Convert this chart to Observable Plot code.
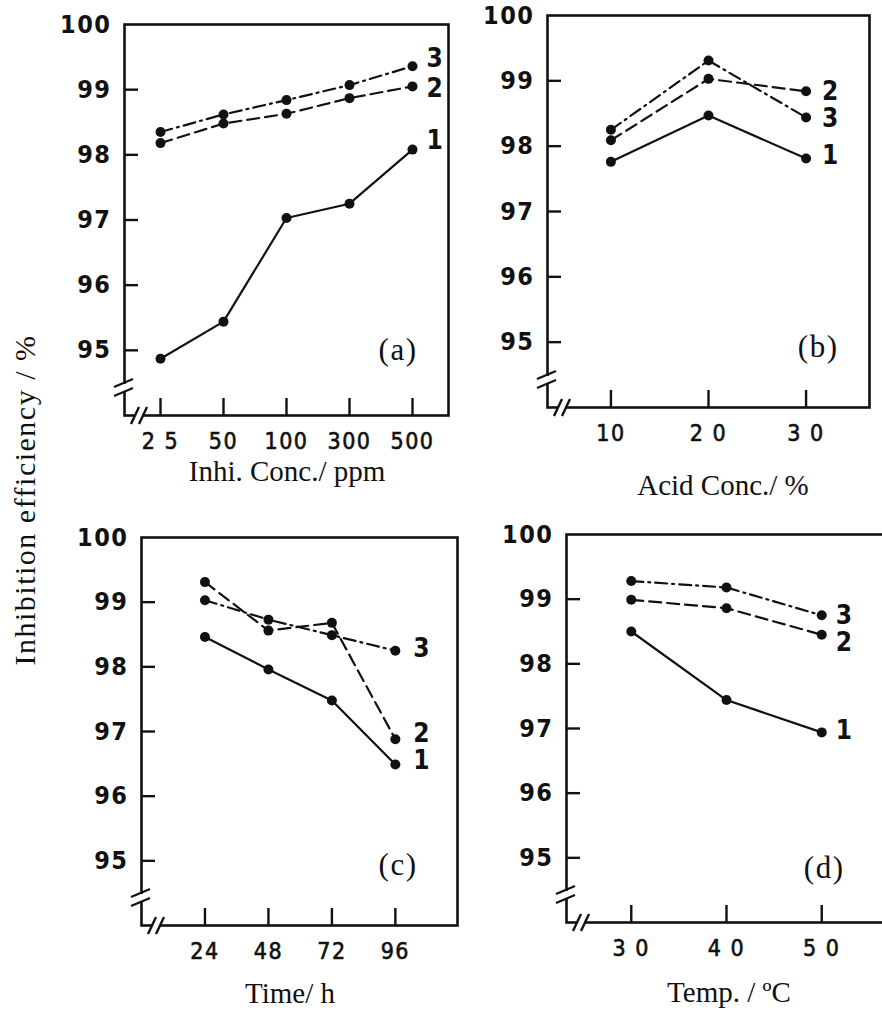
<!DOCTYPE html>
<html>
<head>
<meta charset="utf-8">
<script src="https://cdn.jsdelivr.net/npm/d3@7"></script>
<script src="https://cdn.jsdelivr.net/npm/@observablehq/plot@0.6"></script>
<style>
  html, body { margin: 0; padding: 0; background: #fff; }
  #root { position: relative; width: 882px; height: 1012px; overflow: hidden; background: #fff; }
  .panel { position: absolute; }
  .title { position: absolute; font-family: "Liberation Serif", "Times New Roman", serif; font-size: 29px; line-height: 1; color: #111; white-space: nowrap; transform: translate(-50%, -50%); }
  .ytitle { transform: translate(-50%, -50%) rotate(-90deg); letter-spacing: 1.5px; font-size: 30px; }
  g[aria-label="x-axis tick label"] text { stroke: #111; stroke-width: 0.6px; }
</style>
</head>
<body>
<div id="root"></div>
<script>
// ---------------- data ----------------
const yTickValues = [95, 96, 97, 98, 99, 100];
const yInnerTicks = [95, 96, 97, 98, 99];
const seriesNames = ["1", "2", "3"];

// (a) inhibitor concentration / ppm
const inhiConc = [25, 50, 100, 300, 500];
const inhiConcLabels = ["2 5", "50", "100", "300", "500"];
const a_s1 = [94.87, 95.44, 97.03, 97.25, 98.08];
const a_s2 = [98.18, 98.48, 98.63, 98.87, 99.05];
const a_s3 = [98.35, 98.62, 98.84, 99.07, 99.36];

// (b) acid concentration / %
const acidConc = [10, 20, 30];
const acidConcLabels = ["10", "2 0", "3 0"];
const b_s1 = [97.76, 98.47, 97.81];
const b_s2 = [98.09, 99.03, 98.84];
const b_s3 = [98.25, 99.31, 98.44];

// (c) time / h
const timeH = [24, 48, 72, 96];
const timeHLabels = ["24", "48", "72", "96"];
const c_s1 = [98.46, 97.96, 97.48, 96.49];
const c_s2 = [99.31, 98.56, 98.68, 96.88];
const c_s3 = [99.03, 98.73, 98.49, 98.25];

// (d) temperature / °C
const tempC = [30, 40, 50];
const tempCLabels = ["3 0", "4 0", "5 0"];
const d_s1 = [98.50, 97.44, 96.94];
const d_s2 = [98.99, 98.86, 98.45];
const d_s3 = [99.28, 99.18, 98.75];

// ---------------- styles / layout ----------------
const dashes = [null, "12,6", "12,5,2,5"];

const panels = [
  { tag: "(a)", x: inhiConc, labels: inhiConcLabels, series: [a_s1, a_s2, a_s3], type: "point", padding: 0.55,
    left: 40, top: 0, width: 420, height: 500, ml: 84, mr: 12, mt: 24, mb: 85,
    lab: [[14, -9], [14, 2], [14, -8]], tagPos: [-31, -65] },
  { tag: "(b)", x: acidConc, labels: acidConcLabels, series: [b_s1, b_s2, b_s3], type: "linear", domain: [3.5, 36.5],
    left: 470, top: 0, width: 412, height: 500, ml: 77, mr: 13, mt: 15, mb: 93,
    lab: [[16, -3], [16, 0], [16, 1]], tagPos: [-31, -60] },
  { tag: "(c)", x: timeH, labels: timeHLabels, series: [c_s1, c_s2, c_s3], type: "linear", domain: [0, 119.5],
    left: 60, top: 500, width: 410, height: 512, ml: 81, mr: 13, mt: 37, mb: 87,
    lab: [[18, -4], [18, -6], [18, -2]], tagPos: [-40, -60] },
  { tag: "(d)", x: tempC, labels: tempCLabels, series: [d_s1, d_s2, d_s3], type: "linear", domain: [23.2, 56.8],
    left: 480, top: 500, width: 410, height: 512, ml: 86, mr: 4, mt: 34, mb: 90,
    lab: [[14, -2], [14, 8], [14, 0]], tagPos: [-42, -54] }
];

const sansFont = '"DejaVu Sans Condensed", "DejaVu Sans", sans-serif';
const serifFont = '"Liberation Serif", "Times New Roman", serif';

const root = document.getElementById("root");

function drawPanel(p) {
  const rows = [];
  p.series.forEach((vals, i) => vals.forEach((v, j) => rows.push({x: p.x[j], y: v, s: seriesNames[i]})));
  const innerW = p.width - p.ml - p.mr;
  const innerH = p.height - p.mt - p.mb;
  const lastIdx = p.x.length - 1;

  const marks = [
    Plot.frame({stroke: "#111", strokeWidth: 2.6}),
    Plot.tickY(yInnerTicks, {y: d => d, insetRight: innerW - 14, stroke: "#111", strokeWidth: 2.4}),
    Plot.tickX(p.x, {x: d => d, insetTop: innerH - 17, stroke: "#111", strokeWidth: 2.4}),
    Plot.axisY({ticks: yTickValues, tickSize: 0, tickPadding: 13, label: null, tickFormat: d => String(d),
      fontSize: 25, fontWeight: "bold"}),
    Plot.axisX({ticks: p.x, tickSize: 0, tickPadding: 17, label: null, tickFormat: d => p.labels[p.x.indexOf(d)],
      fontSize: 23})
  ];
  seriesNames.forEach((name, i) => {
    marks.push(Plot.line(rows.filter(r => r.s === name), {x: "x", y: "y", stroke: "#111", strokeWidth: 2.2, strokeDasharray: dashes[i]}));
  });
  marks.push(Plot.dot(rows, {x: "x", y: "y", r: 5, fill: "#111", stroke: "none"}));
  seriesNames.forEach((name, i) => {
    marks.push(Plot.text([{x: p.x[lastIdx], y: p.series[i][lastIdx], s: name}], {
      x: "x", y: "y", text: "s", dx: p.lab[i][0], dy: p.lab[i][1], textAnchor: "start", fill: "#111",
      fontSize: 26, fontWeight: "bold"
    }));
  });
  marks.push(Plot.text([p.tag], {frameAnchor: "bottom-right", dx: p.tagPos[0], dy: p.tagPos[1], textAnchor: "end", lineAnchor: "middle",
    fontFamily: serifFont, fontSize: 31, fill: "#111"}));

  const xScale = p.type === "point" ? {type: "point", domain: p.x, padding: p.padding} : {type: "linear", domain: p.domain};

  const chart = Plot.plot({
    width: p.width, height: p.height,
    marginLeft: p.ml, marginRight: p.mr, marginTop: p.mt, marginBottom: p.mb,
    x: xScale,
    y: {domain: [94, 100]},
    style: `background: transparent; overflow: visible; font-family: ${sansFont}; font-size: 25px; letter-spacing: 1.5px; color: #111;`,
    marks
  });
  chart.classList.add("panel");
  chart.style.left = p.left + "px";
  chart.style.top = p.top + "px";

  // axis break marks
  const svg = d3.select(chart);
  const L = p.ml, B = p.height - p.mb;
  svg.append("rect").attr("x", L - 3).attr("y", B - 31).attr("width", 6).attr("height", 8).attr("fill", "#fff");
  svg.append("rect").attr("x", L + 11).attr("y", B - 3).attr("width", 8).attr("height", 6).attr("fill", "#fff");
  const g = svg.append("g").attr("stroke", "#111").attr("stroke-width", 2.4).attr("fill", "none");
  [B - 32, B - 23].forEach(y => g.append("line").attr("x1", L - 10).attr("y1", y + 4).attr("x2", L + 9).attr("y2", y - 4));
  [L + 11, L + 19].forEach(x => g.append("line").attr("x1", x - 4).attr("y1", B + 9).attr("x2", x + 4).attr("y2", B - 8));

  root.appendChild(chart);
}

panels.forEach(drawPanel);

function addTitle(text, x, y, cls) {
  const d = document.createElement("div");
  d.className = "title" + (cls ? " " + cls : "");
  d.textContent = text;
  d.style.left = x + "px";
  d.style.top = y + "px";
  root.appendChild(d);
}
addTitle("Inhibition efficiency / %", 25, 500, "ytitle");
addTitle("Inhi. Conc./ ppm", 287, 471);
addTitle("Acid Conc./ %", 723, 485);
addTitle("Time/ h", 290, 993);
addTitle("Temp. / \u00baC", 729, 992);
</script>
</body>
</html>
